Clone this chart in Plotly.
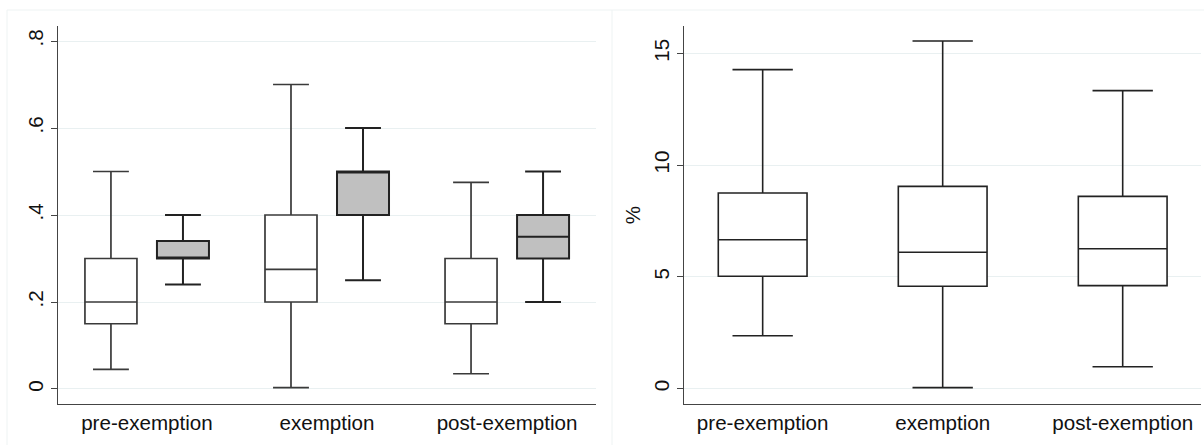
import plotly.graph_objects as go

categories = ["pre-exemption", "exemption", "post-exemption"]

# Left panel: two series per category (white and grey boxes)
white_lower = [0.045, 0.003, 0.035]
white_q1 = [0.15, 0.20, 0.15]
white_median = [0.20, 0.275, 0.20]
white_q3 = [0.30, 0.40, 0.30]
white_upper = [0.50, 0.70, 0.475]

grey_lower = [0.24, 0.25, 0.20]
grey_q1 = [0.30, 0.40, 0.30]
grey_median = [0.30, 0.50, 0.35]
grey_q3 = [0.34, 0.50, 0.40]
grey_upper = [0.40, 0.60, 0.50]

left_tickvals = [0, 0.2, 0.4, 0.6, 0.8]
left_ticktext = ["0", ".2", ".4", ".6", ".8"]

# Right panel (%)
pct_lower = [2.37, 0.05, 0.98]
pct_q1 = [5.03, 4.58, 4.61]
pct_median = [6.66, 6.10, 6.26]
pct_q3 = [8.75, 9.05, 8.60]
pct_upper = [14.27, 15.55, 13.33]

right_tickvals = [0, 5, 10, 15]
right_ticktext = ["0", "5", "10", "15"]

FONT = "Liberation Sans, Arial, Helvetica, sans-serif"
GRID = "#e9f0f1"
AXIS = "#444444"
FS = 20.6

fig = go.Figure()

fig.add_trace(go.Box(
    x=categories, q1=white_q1, median=white_median, q3=white_q3,
    lowerfence=white_lower, upperfence=white_upper,
    boxpoints=False, fillcolor="white", line=dict(color="#3a3a3a", width=1.7),
    whiskerwidth=0.69, offsetgroup="w", xaxis="x", yaxis="y",
    showlegend=False, hoverinfo="skip"))

fig.add_trace(go.Box(
    x=categories, q1=grey_q1, median=grey_median, q3=grey_q3,
    lowerfence=grey_lower, upperfence=grey_upper,
    boxpoints=False, fillcolor="#c0c0c0", line=dict(color="#222222", width=2),
    whiskerwidth=0.69, offsetgroup="g", xaxis="x", yaxis="y",
    showlegend=False, hoverinfo="skip"))

fig.add_trace(go.Box(
    x=categories, q1=pct_q1, median=pct_median, q3=pct_q3,
    lowerfence=pct_lower, upperfence=pct_upper,
    boxpoints=False, fillcolor="white", line=dict(color="#222222", width=1.6),
    whiskerwidth=0.68, width=0.493, xaxis="x2", yaxis="y2",
    showlegend=False, hoverinfo="skip"))

W, H = 1204, 445
def px_x(p):
    return p / W
def px_y(p):
    return 1 - p / H

fig.update_layout(
    width=W, height=H,
    margin=dict(l=0, r=0, t=0, b=0),
    paper_bgcolor="white", plot_bgcolor="white",
    boxmode="group", boxgap=0.2, boxgroupgap=0.278,
    font=dict(family=FONT, size=FS, color="#111111"),
    xaxis=dict(domain=[px_x(58), px_x(596)], anchor="y",
               type="category", categoryorder="array", categoryarray=categories,
               range=[-0.494, 2.494], showgrid=False, zeroline=False,
               showline=True, linecolor=AXIS, linewidth=1.2, ticks="",
               tickfont=dict(size=FS)),
    yaxis=dict(domain=[px_y(404), px_y(26)], anchor="x",
               range=[-0.0345, 0.8345], tickvals=left_tickvals, ticktext=left_ticktext,
               tickangle=-90, ticks="outside", ticklen=6, tickcolor=AXIS,
               showgrid=True, gridcolor=GRID, gridwidth=1, zeroline=False,
               showline=True, linecolor=AXIS, linewidth=1.2,
               tickfont=dict(size=FS)),
    xaxis2=dict(domain=[px_x(684), px_x(1201)], anchor="y2",
                type="category", categoryorder="array", categoryarray=categories,
                range=[-0.437, 2.435], showgrid=False, zeroline=False,
                showline=True, linecolor=AXIS, linewidth=1.2, ticks="",
                tickfont=dict(size=FS)),
    yaxis2=dict(domain=[px_y(404), px_y(26)], anchor="x2",
                range=[-0.684, 16.22], tickvals=right_tickvals, ticktext=right_ticktext,
                tickangle=-90, ticks="outside", ticklen=6, tickcolor=AXIS,
                showgrid=True, gridcolor=GRID, gridwidth=1, zeroline=False,
                showline=True, linecolor=AXIS, linewidth=1.2,
                title=dict(text="%", font=dict(size=FS), standoff=3),
                tickfont=dict(size=FS)),
)

# faint panel outlines
border = "#eef3f3"
fig.add_shape(type="line", xref="paper", yref="paper",
              x0=px_x(7), x1=1, y0=px_y(10), y1=px_y(10), line=dict(color=border, width=1))
fig.add_shape(type="line", xref="paper", yref="paper",
              x0=px_x(7), x1=px_x(7), y0=0, y1=px_y(10), line=dict(color=border, width=1))
fig.add_shape(type="line", xref="paper", yref="paper",
              x0=px_x(612), x1=px_x(612), y0=0, y1=px_y(10), line=dict(color=border, width=1))

fig.write_html("out.html",
               config={"displayModeBar": False},
               post_script="document.body.style.margin='0';document.body.style.overflow='hidden';")
